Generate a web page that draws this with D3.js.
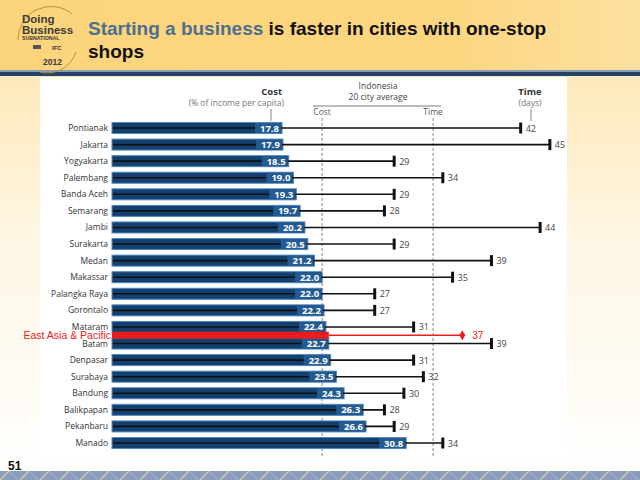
<!DOCTYPE html>
<html><head><meta charset="utf-8">
<script src="https://cdn.jsdelivr.net/npm/d3@7/dist/d3.min.js"></script>
<style>body{margin:0;padding:0;overflow:hidden;}svg{display:block;}</style>
</head><body>
<script>
const cities = ["Pontianak","Jakarta","Yogyakarta","Palembang","Banda Aceh","Semarang","Jambi","Surakarta","Medan","Makassar","Palangka Raya","Gorontalo","Mataram","Batam","Denpasar","Surabaya","Bandung","Balikpapan","Pekanbaru","Manado"];
const costValues = [17.8,17.9,18.5,19.0,19.3,19.7,20.2,20.5,21.2,22.0,22.0,22.2,22.4,22.7,22.9,23.5,24.3,26.3,26.6,30.8];
const timeValues = [42,45,29,34,29,28,44,29,39,35,27,27,31,39,31,32,30,28,29,34];
const avgCost = 22.0;
const avgTime = 33;
const regionLabel = "East Asia & Pacific";
const regionCost = 22.7;
const regionTime = 36;
const regionTimeLabel = "37";
const titleBlue = "Starting a business";
const titleRest = "is faster in cities with one-stop";
const titleLine2 = "shops";
const pageNumber = "51";

const W = 640, H = 480;
const svg = d3.select("body").append("svg").attr("width", W).attr("height", H)
  .style("font-family", "'Liberation Sans', Arial, sans-serif");
const defs = svg.append("defs");

// backgrounds
const hg = defs.append("linearGradient").attr("id","hg").attr("x1","0").attr("x2","1");
hg.append("stop").attr("offset","0").attr("stop-color","#fcd47c");
hg.append("stop").attr("offset","0.7").attr("stop-color","#fcd680");
hg.append("stop").attr("offset","1").attr("stop-color","#fde0a0");
const sg = defs.append("linearGradient").attr("id","sg").attr("x1","0").attr("x2","0").attr("y1","0").attr("y2","1");
sg.append("stop").attr("offset","0").attr("stop-color","#fde3a8");
sg.append("stop").attr("offset","0.5").attr("stop-color","#fff6e4");
sg.append("stop").attr("offset","1").attr("stop-color","#ffffff");
svg.append("rect").attr("width",W).attr("height",H).attr("fill","url(#sg)");
svg.append("rect").attr("width",W).attr("height",71).attr("fill","url(#hg)");
svg.append("rect").attr("y",70).attr("width",W).attr("height",2).attr("fill","#8a9bb0");
svg.append("rect").attr("y",72).attr("width",W).attr("height",4).attr("fill","#26426a");
svg.append("rect").attr("x",40).attr("y",77).attr("width",527).attr("height",385).attr("fill","#ffffff");

// bottom band
const pat = defs.append("pattern").attr("id","bp").attr("width",40).attr("height",10).attr("patternUnits","userSpaceOnUse");
pat.append("rect").attr("width",40).attr("height",10).attr("fill","#8b9cbc");
pat.append("path").attr("d","M0,10 L10,0 M20,10 L30,0").attr("stroke","#cfc6a2").attr("stroke-width",1.5);
pat.append("path").attr("d","M8,0 L18,10 M28,0 L38,10").attr("stroke","#aab5cc").attr("stroke-width",1);
svg.append("rect").attr("y",471).attr("width",W).attr("height",9).attr("fill","url(#bp)");

// logo
const logo = svg.append("g");
logo.append("path").attr("d","M18,40 A33,33 0 0 1 72,14").attr("fill","none").attr("stroke","#b8943a").attr("stroke-width",1);
logo.append("path").attr("d","M40,72 A30,30 0 0 0 76,52").attr("fill","none").attr("stroke","#b8943a").attr("stroke-width",1);
logo.append("text").attr("x",22).attr("y",23).text("Doing").attr("font-size",11.5).attr("font-weight","bold").attr("fill","#3a3a3a");
logo.append("text").attr("x",22).attr("y",34).text("Business").attr("font-size",11.5).attr("font-weight","bold").attr("fill","#3a3a3a");
logo.append("text").attr("x",22).attr("y",40).text("SUBNATIONAL").attr("font-size",5.2).attr("font-weight","bold").attr("fill","#3a3a3a");
logo.append("rect").attr("x",33).attr("y",45).attr("width",8).attr("height",4).attr("fill","#555");
logo.append("text").attr("x",52).attr("y",50).text("IFC").attr("font-size",6).attr("font-weight","bold").attr("fill","#333");
logo.append("text").attr("x",43).attr("y",65).text("2012").attr("font-size",8.5).attr("font-weight","bold").attr("fill","#3a3a3a");

// title
const t1 = svg.append("text").attr("x",88).attr("y",35).attr("font-size",19).attr("font-weight","bold");
t1.append("tspan").attr("fill","#4d6f90").text(titleBlue);
t1.append("tspan").attr("fill","#111").text(" " + titleRest);
svg.append("text").attr("x",88).attr("y",58).attr("font-size",19).attr("font-weight","bold").attr("fill","#111").text(titleLine2);

svg.append("text").attr("x",8).attr("y",470).attr("font-size",12).attr("font-weight","bold").attr("fill","#111").text(pageNumber);

// scales
const y = d3.scalePoint().domain(cities).range([128, 443]);
const xc = d3.scaleLinear().domain([0, 40]).range([112, 112 + 40*9.55]);
const xt = d3.scaleLinear().domain([0, 45]).range([112, 112 + 45*9.73]);

const g = svg.append("g").style("font-family","'Open Sans', 'DejaVu Sans', sans-serif");

// headers
g.append("text").attr("x",282).attr("y",95).attr("text-anchor","end").attr("font-size",9.5).attr("font-weight","bold").attr("fill","#333").text("Cost");
g.append("text").attr("x",284).attr("y",106).attr("text-anchor","end").attr("font-size",8.5).attr("fill","#777").text("(% of income per capita)");
g.append("line").attr("x1",271).attr("x2",271).attr("y1",109).attr("y2",121).attr("stroke","#666").attr("stroke-width",0.8);
g.append("text").attr("x",530).attr("y",95).attr("text-anchor","middle").attr("font-size",9.5).attr("font-weight","bold").attr("fill","#333").text("Time");
g.append("text").attr("x",530).attr("y",106).attr("text-anchor","middle").attr("font-size",8.5).attr("fill","#777").text("(days)");
g.append("line").attr("x1",531).attr("x2",531).attr("y1",109).attr("y2",121).attr("stroke","#666").attr("stroke-width",0.8);
g.append("text").attr("x",378).attr("y",89).attr("text-anchor","middle").attr("font-size",8.5).attr("fill","#444").text("Indonesia");
g.append("text").attr("x",378).attr("y",100).attr("text-anchor","middle").attr("font-size",8.5).attr("fill","#444").text("20 city average");
g.append("line").attr("x1",313).attr("x2",441).attr("y1",106).attr("y2",106).attr("stroke","#555").attr("stroke-width",0.8);
g.append("text").attr("x",xc(avgCost)).attr("y",115).attr("text-anchor","middle").attr("font-size",8.5).attr("fill","#555").text("Cost");
g.append("text").attr("x",xt(avgTime)).attr("y",115).attr("text-anchor","middle").attr("font-size",8.5).attr("fill","#555").text("Time");
[xc(avgCost), xt(avgTime)].forEach(x => {
  g.append("line").attr("x1",x).attr("x2",x).attr("y1",118).attr("y2",456)
    .attr("stroke","#666").attr("stroke-width",0.8).attr("stroke-dasharray","3,2");
});

const data = cities.map((c,i) => ({city:c, cost:costValues[i], time:timeValues[i]}));
const rows = g.selectAll("g.row").data(data).enter().append("g").attr("class","row");

rows.append("text").attr("x",108).attr("y",d=>y(d.city)+3).attr("text-anchor","end")
  .attr("font-size",8.5).attr("fill","#333").text(d=>d.city);
rows.append("rect").attr("x",xc(0)).attr("y",d=>y(d.city)-5.5).attr("width",d=>xc(d.cost)-xc(0)).attr("height",11)
  .attr("fill","#14406f").attr("stroke","#4f88c2").attr("stroke-width",1);
rows.append("line").attr("x1",xc(0)+1).attr("x2",d=>xt(d.time)).attr("y1",d=>y(d.city)).attr("y2",d=>y(d.city))
  .attr("stroke","#111").attr("stroke-width",1.6);
rows.append("rect").attr("x",d=>xc(d.cost)-27).attr("y",d=>y(d.city)-5).attr("width",26).attr("height",10).attr("fill","#245a92");
rows.append("text").attr("x",d=>xc(d.cost)-3).attr("y",d=>y(d.city)+3.5).attr("text-anchor","end")
  .attr("font-size",9.5).attr("font-weight","bold").attr("fill","#ffffff").text(d=>d.cost.toFixed(1));
rows.append("rect").attr("x",d=>xt(d.time)-1.5).attr("y",d=>y(d.city)-5.5).attr("width",3).attr("height",11).attr("fill","#111");
rows.append("text").attr("x",d=>xt(d.time)+5).attr("y",d=>y(d.city)+3.5).attr("font-size",9).attr("fill","#444").text(d=>d.time);

// region overlay
const ry = (y("Mataram") + y("Batam"))/2;
svg.append("rect").attr("x",xc(0)).attr("y",ry-3.5).attr("width",xc(regionCost)-xc(0)).attr("height",7).attr("fill","#ee1c1c");
svg.append("line").attr("x1",xc(regionCost)).attr("x2",xt(regionTime)).attr("y1",ry).attr("y2",ry).attr("stroke","#ee1c1c").attr("stroke-width",1.5);
svg.append("path").attr("d",d3.symbol(d3.symbolDiamond, 30)()).attr("transform",`translate(${xt(regionTime)},${ry})`).attr("fill","#ee1c1c");
svg.append("text").attr("x",xt(regionTime)+10).attr("y",ry+4).attr("font-size",10).attr("fill","#ee1c1c").text(regionTimeLabel);
svg.append("text").attr("x",xc(0)-1).attr("y",ry+4).attr("text-anchor","end").attr("font-size",10.5).attr("fill","#ee1c1c").text(regionLabel);
</script>
</body></html>
